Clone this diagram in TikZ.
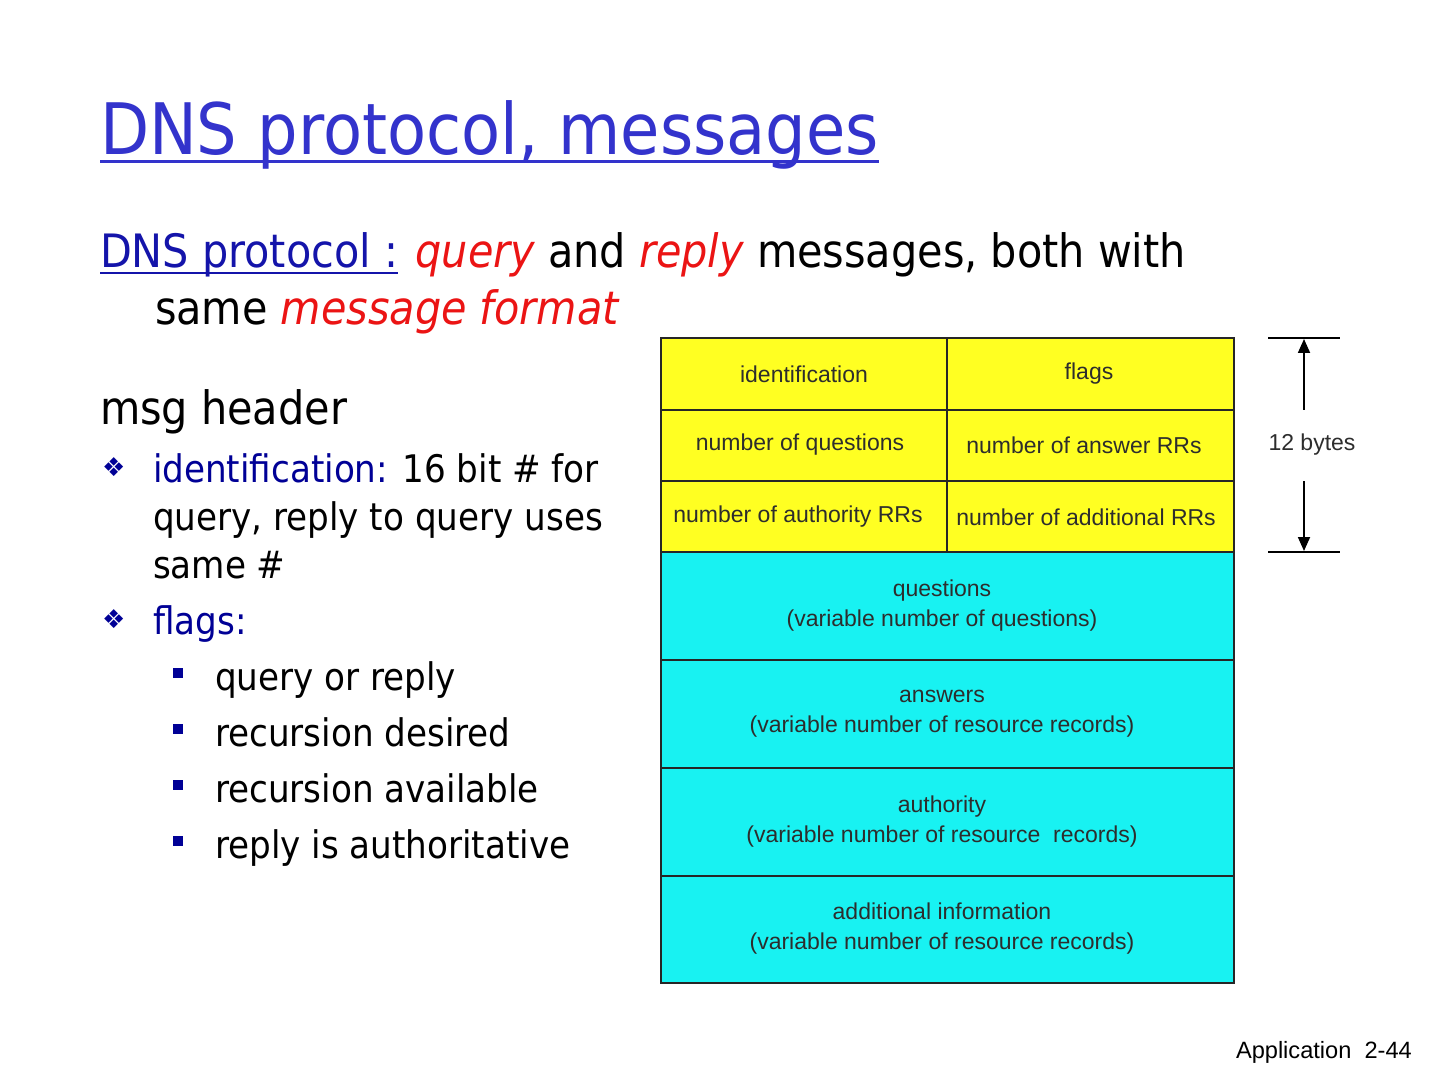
\documentclass[tikz,border=0pt]{standalone}
\usepackage{fontspec}
\setmainfont{DejaVu Sans Condensed}
\newfontfamily\tabfont{Liberation Sans}
\newfontfamily\symfont{DejaVu Sans}
\usetikzlibrary{calc,arrows.meta}
\definecolor{titleblue}{RGB}{51,51,204}
\definecolor{darkblue}{RGB}{0,0,150}
\definecolor{linkblue}{RGB}{20,20,170}
\definecolor{redtxt}{RGB}{235,20,20}
\definecolor{yel}{RGB}{255,255,34}
\definecolor{cya}{RGB}{24,242,242}
\definecolor{celltext}{RGB}{45,45,45}
\tikzset{
  txt/.style={anchor=base west, inner sep=0pt, outer sep=0pt},
  cell/.style={draw=black!85, line width=0.9pt},
  celltxt/.style={font=\tabfont\fontsize{11.5}{15}\selectfont, text=celltext, align=center, inner sep=0pt},
  bul/.style={txt, text=darkblue, font=\symfont\fontsize{13}{13}\selectfont},
  sq/.style={fill=darkblue, minimum size=5pt, inner sep=0pt, draw=none},
}
\begin{document}
\begin{tikzpicture}[x=0.5pt,y=-0.5pt]
\useasboundingbox[fill=white] (0,0) rectangle (1440,1080);
% title
\node[txt, text=titleblue, font=\fontsize{35.5}{40}\selectfont] (title) at (100,155) {DNS protocol, messages};
\draw[titleblue, line width=1.5pt] ($(title.base west)+(0,7)$) -- ($(title.base east)+(0,7)$);
% subtitle
\node[txt, font=\fontsize{23}{28}\selectfont] (sub1) at (100,268) {\textcolor{linkblue}{DNS protocol :} \textcolor{redtxt}{\itshape query} and \textcolor{redtxt}{\itshape reply} messages, both with};
\node[txt, font=\fontsize{23}{28}\selectfont] (sub1u) at (100,268) {\phantom{DNS protocol :}};
\draw[linkblue, line width=0.9pt] ($(sub1u.base west)+(0,5)$) -- ($(sub1u.base east)+(0,5)$);
\node[txt, font=\fontsize{23}{28}\selectfont] (sub2) at (155,325) {same \textcolor{redtxt}{\itshape message format}};
% left list
\node[txt, font=\fontsize{23}{28}\selectfont] (hdr) at (100,425) {msg header};
\node[bul] (b1) at (102,476) {❖};
\node[txt, font=\fontsize{19}{24}\selectfont] (l1) at (153,482) {\textcolor{darkblue}{identification:} 16 bit \# for};
\node[txt, font=\fontsize{19}{24}\selectfont] (l2) at (153,530) {query, reply to query uses};
\node[txt, font=\fontsize{19}{24}\selectfont] (l3) at (153,578) {same \#};
\node[bul] (b2) at (102,628) {❖};
\node[txt, font=\fontsize{19}{24}\selectfont, text=darkblue] (l4) at (153,634) {flags:};
\node[sq] (s1) at (178,673) {};
\node[txt, font=\fontsize{19}{24}\selectfont] (f1) at (215,690) {query or reply};
\node[sq] (s2) at (178,729) {};
\node[txt, font=\fontsize{19}{24}\selectfont] (f2) at (215,746) {recursion desired};
\node[sq] (s3) at (178,785) {};
\node[txt, font=\fontsize{19}{24}\selectfont] (f3) at (215,802) {recursion available};
\node[sq] (s4) at (178,841) {};
\node[txt, font=\fontsize{19}{24}\selectfont] (f4) at (215,858) {reply is authoritative};
% table
\fill[yel] (661,338) rectangle (1234,552);
\fill[cya] (661,552) rectangle (1234,983);
\draw[cell] (661,338) rectangle (1234,983);
\draw[cell] (947,338) -- (947,552);
\foreach \y in {410,481,552,660,768,876} \draw[cell] (661,\y) -- (1234,\y);
\node[celltxt] (c11) at (804,374) {identification};
\node[celltxt] (c12) at (1089,374) {flags};
\node[celltxt] (c21) at (800,445) {number of questions};
\node[celltxt] (c22) at (1084,445) {number of answer RRs};
\node[celltxt] (c31) at (798,517) {number of authority RRs};
\node[celltxt] (c32) at (1086,517) {number of additional RRs};
\node[celltxt] (q) at (942,606) {questions\\(variable number of questions)};
\node[celltxt] (a) at (942,714) {answers\\(variable number of resource records)};
\node[celltxt] (au) at (942,822) {authority\\(variable number of resource\ \ records)};
\node[celltxt] (ad) at (942,929) {additional information\\(variable number of resource records)};
% 12 bytes
\coordinate (t1) at (1268,338); \coordinate (t2) at (1340,338);
\coordinate (u1) at (1268,552); \coordinate (u2) at (1340,552);
\draw[line width=0.9pt] (t1) -- (t2);
\draw[line width=0.9pt] (u1) -- (u2);
\node[celltxt] (tw) at (1312,445) {12 bytes};
\coordinate (at) at (1304,339); \coordinate (ab) at (1304,551);
\coordinate (a1) at (1304,410); \coordinate (a2) at (1304,481);
\draw[line width=0.9pt, -{Triangle[length=7pt,width=6pt]}] (a1) -- (at);
\draw[line width=0.9pt, -{Triangle[length=7pt,width=6pt]}] (a2) -- (ab);
% footer
\node[txt, font=\tabfont\fontsize{11.8}{14}\selectfont] (foot) at (1236,1058) {Application\ \ 2-44};
\end{tikzpicture}
\end{document}
